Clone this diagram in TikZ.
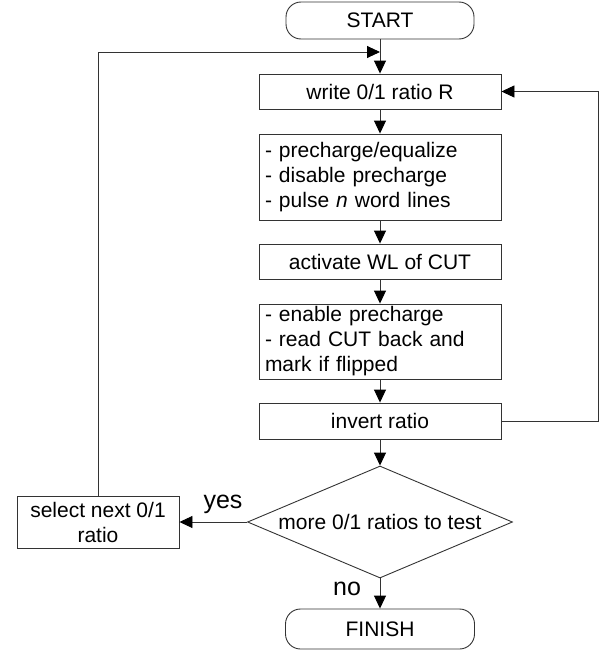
\documentclass[tikz,border=0pt]{standalone}
\usepackage{fontspec}
\setmainfont{Liberation Sans}
\usetikzlibrary{shapes.geometric,arrows.meta}
\begin{document}
\begin{tikzpicture}[x=1pt,y=-1pt,
  font=\fontsize{21}{25}\selectfont,
  line/.style={draw=black!80,line width=0.9pt},
  arr/.style={line,-{Triangle[length=13pt,width=12pt,color=black]}},
  proc/.style={line,rectangle,minimum width=242pt,inner sep=0pt,fill=white},
  multi/.style={proc,text width=230pt,align=left},
  term/.style={line,rectangle,rounded corners=15pt,inner sep=0pt,fill=white},
  decision/.style={line,diamond,minimum width=265pt,minimum height=112pt,aspect=2.37,inner sep=0pt},
  lab/.style={font=\fontsize{25}{28}\selectfont,anchor=base,inner sep=0pt}]
\useasboundingbox (0,0) rectangle (602,653);
\node[term,minimum width=188pt,minimum height=37pt] (start) at (380,20.5) {START};
\node[proc,minimum height=35pt] (write) at (380,91.5) {write 0/1 ratio R};
\node[multi,minimum height=86pt] (pre) at (380,177) {- precharge/equalize\\- disable precharge\\- pulse \textit{n} word lines};
\node[proc,minimum height=35pt] (act) at (380,261.5) {activate WL of CUT};
\node[multi,minimum height=75pt] (ena) at (380,341.5) {- enable precharge\\- read CUT back and\\mark if flipped};
\node[proc,minimum height=36pt] (inv) at (380,421) {invert ratio};
\node[decision] (dec) at (380,522) {more 0/1 ratios to test};
\node[proc,minimum width=162pt,minimum height=52pt,align=center] (sel) at (98,522) {select next 0/1\\ratio};
\node[term,minimum width=189pt,minimum height=40pt] (finish) at (380,629) {FINISH};
\coordinate (merge) at (380,52);
\coordinate (rloop) at (598,421);
\draw[arr] (start.south) -- (write.north);
\draw[arr] (sel.north) |- (merge);
\draw[arr] (write.south) -- (pre.north);
\draw[arr] (pre.south) -- (act.north);
\draw[arr] (act.south) -- (ena.north);
\draw[arr] (ena.south) -- (inv.north);
\draw[arr] (inv.south) -- (dec.north);
\draw[arr] (inv.east) -- (rloop) |- (write.east);
\draw[arr] (dec.west) -- (sel.east);
\draw[arr] (dec.south) -- (finish.north);
\node[lab] (yes) at (223,508) {yes};
\node[lab] (no) at (347,595) {no};
\end{tikzpicture}
\end{document}
